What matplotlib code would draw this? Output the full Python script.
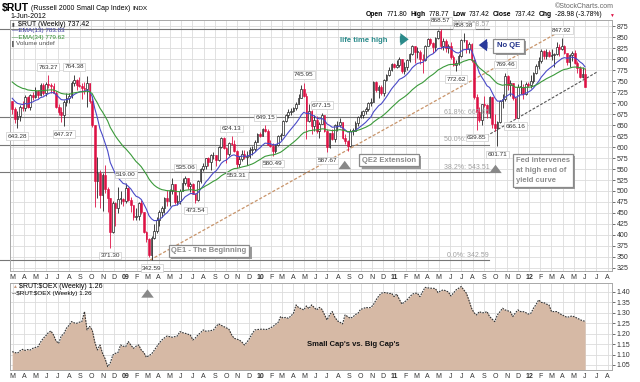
import numpy as np
import pandas as pd
import matplotlib
matplotlib.use('Agg')
import matplotlib.pyplot as plt
import matplotlib.patheffects as pe

plt.rcParams['font.family'] = ['Liberation Sans', 'DejaVu Sans']

# weekly bars, $RUT
weeks = pd.date_range('2008-02-29', '2012-06-01', freq='W-FRI')
first_open = 705

closes = [
    686, 663, 671, 690, 688, 714, 690, 718, 714, 728,
    718, 741, 722, 744, 740, 738, 724, 691, 680, 674,
    703, 712, 716, 745, 752, 742, 739, 734, 731, 745,
    705, 650, 522, 541, 490, 537, 505, 483, 406, 473,
    461, 482, 482, 478, 507, 480, 468, 441, 443, 472,
    452, 406, 390, 355, 393, 408, 435, 452, 462, 485,
    478, 500, 515, 474, 478, 501, 518, 530, 512, 517,
    494, 480, 522, 549, 557, 574, 565, 581, 583, 571,
    600, 620, 598, 585, 610, 608, 592, 562, 572, 585,
    578, 580, 594, 596, 612, 630, 625, 641, 637, 605,
    603, 592, 604, 624, 628, 660, 672, 680, 683, 688,
    699, 712, 732, 717, 660, 681, 647, 661, 636, 652,
    672, 637, 600, 631, 619, 649, 650, 656, 620, 613,
    603, 637, 637, 655, 669, 672, 681, 686, 701, 703,
    748, 729, 737, 722, 752, 763, 776, 788, 783, 786,
    801, 773, 782, 797, 812, 829, 817, 817, 801, 798,
    830, 846, 836, 828, 848, 865, 829, 841, 826, 830,
    805, 787, 792, 807, 843, 843, 823, 835, 797, 714,
    679, 662, 697, 695, 677, 713, 652, 644, 658, 705,
    710, 762, 740, 745, 711, 667, 737, 737, 720, 743,
    741, 750, 768, 785, 795, 818, 806, 816, 808, 810,
    812, 827, 822, 830, 815, 794, 809, 815, 791, 779,
    760, 766, 737.42,
]

highs = [
    705, 690, 682, 695, 705, 718, 716, 721, 726, 736,
    730, 745, 745, 748, 763.27, 746, 745, 727, 699, 690,
    707, 722, 722, 750, 764.38, 754, 760, 745, 748, 762,
    744, 712, 650, 578, 548, 541, 560, 510, 482, 478,
    476, 510, 500, 483, 519.00, 509, 487, 468, 461, 475,
    480, 453, 410, 392, 398, 425, 441, 457, 465, 487,
    503, 505, 530, 516, 490, 504, 529, 535.06, 530, 521,
    518, 495, 525, 552, 564, 576, 578, 584, 588, 582,
    603, 623, 622, 599, 612, 624.13, 617, 594, 580, 593,
    594, 590, 600, 602, 616, 632, 635, 644, 649.15, 640,
    615, 610, 606, 628, 633, 662, 675, 686, 688, 692,
    702, 720, 741, 745.95, 724, 699, 685, 672, 670, 657,
    677.15, 670, 642, 632, 641, 652, 659, 667, 655, 630,
    615, 640, 644, 660, 671, 683, 684, 692, 703, 712,
    750, 750, 740, 741, 755, 767, 782, 791, 792, 798,
    804, 800, 794, 800, 815, 832, 829, 827, 820, 812,
    831, 848, 849, 840, 850, 867, 868.57, 848, 845, 834,
    838, 810, 797, 812, 845, 858.38, 843, 840, 836, 800,
    721, 690, 699, 716, 698, 717, 712, 676, 660, 708,
    720, 769.46, 765, 752, 746, 710, 744, 753, 743, 747,
    749, 765, 771, 789, 804, 822, 820, 823, 820, 824,
    815, 839, 835, 847.92, 832, 815, 811, 818, 820, 795,
    785, 781, 778.77,
]

lows = [
    675, 655, 643.28, 660, 683, 682, 688, 685, 707, 712,
    712, 716, 719, 717, 735, 722, 722, 688, 674, 658,
    647.37, 693, 701, 712, 738, 730, 736, 710, 720, 690,
    700, 645, 464, 483, 461, 455, 495, 453, 371.30, 405,
    420, 450, 470, 465, 473, 477, 452, 434, 434, 435,
    447, 404, 383, 350, 342.59, 390, 405, 421, 440, 450,
    466, 467, 493, 470, 468, 470, 500, 513, 505, 498,
    493, 473.54, 478, 519, 545, 550, 557, 547, 572, 557,
    568, 598, 596, 563, 580, 604, 588, 553.31, 555, 568,
    573, 560, 576, 583, 590, 612, 622, 624, 634, 604,
    599, 580.49, 586, 602, 617, 627, 657, 665, 672, 679,
    685, 697, 711, 714, 618, 658, 629, 636, 631, 620,
    652, 634, 587.67, 598, 616, 612, 637, 646, 618, 607,
    590, 600, 628, 636, 648, 666, 665, 675, 681, 693,
    702, 725, 712, 718, 717, 750, 761, 774, 780, 779,
    781, 768, 766, 776, 793, 810, 792, 802, 790, 769,
    796, 830, 833, 815, 818, 846, 824, 820, 817, 815,
    800, 785, 772.62, 787, 805, 838, 814, 815, 793, 709,
    639.85, 658, 650, 690, 665, 666, 643, 636, 601.71, 655,
    688, 705, 730, 715, 706, 666.16, 670, 720, 710, 718,
    737, 735, 745, 767, 778, 791, 800, 801, 804, 797,
    783, 810, 806, 820, 811, 787, 782, 795, 788, 768,
    758, 758, 737.42,
]

# $RUT:$OEX weekly
ratio = [
    1.114, 1.110, 1.106, 1.118, 1.125, 1.120, 1.124, 1.122, 1.130, 1.134,
    1.138, 1.160, 1.178, 1.190, 1.205, 1.213, 1.194, 1.165, 1.154, 1.189,
    1.200, 1.226, 1.240, 1.258, 1.252, 1.250, 1.255, 1.258, 1.306, 1.218,
    1.235, 1.218, 1.160, 1.122, 1.146, 1.106, 1.080, 1.042, 1.060, 1.098,
    1.106, 1.110, 1.146, 1.140, 1.138, 1.162, 1.145, 1.130, 1.140, 1.146,
    1.122, 1.110, 1.087, 1.095, 1.103, 1.120, 1.138, 1.155, 1.170, 1.180,
    1.189, 1.186, 1.183, 1.186, 1.189, 1.210, 1.205, 1.202, 1.198, 1.194,
    1.170, 1.180, 1.194, 1.205, 1.218, 1.212, 1.213, 1.215, 1.218, 1.235,
    1.247, 1.240, 1.234, 1.228, 1.221, 1.195, 1.178, 1.174, 1.170, 1.160,
    1.146, 1.160, 1.178, 1.200, 1.218, 1.220, 1.221, 1.222, 1.220, 1.221,
    1.228, 1.234, 1.245, 1.253, 1.282, 1.275, 1.278, 1.274, 1.285, 1.298,
    1.338, 1.325, 1.320, 1.314, 1.333, 1.320, 1.338, 1.326, 1.314, 1.326,
    1.317, 1.292, 1.266, 1.290, 1.306, 1.280, 1.262, 1.255, 1.247, 1.290,
    1.282, 1.274, 1.280, 1.292, 1.298, 1.317, 1.320, 1.326, 1.324, 1.326,
    1.340, 1.362, 1.380, 1.394, 1.397, 1.397, 1.392, 1.394, 1.378, 1.390,
    1.365, 1.342, 1.352, 1.362, 1.376, 1.389, 1.394, 1.394, 1.378, 1.400,
    1.422, 1.420, 1.418, 1.418, 1.416, 1.397, 1.405, 1.410, 1.406, 1.400,
    1.381, 1.395, 1.410, 1.418, 1.426, 1.410, 1.394, 1.360, 1.322, 1.300,
    1.290, 1.306, 1.300, 1.301, 1.306, 1.282, 1.270, 1.258, 1.290, 1.305,
    1.322, 1.314, 1.310, 1.306, 1.282, 1.300, 1.314, 1.306, 1.306, 1.301,
    1.294, 1.298, 1.322, 1.340, 1.362, 1.350, 1.349, 1.342, 1.338, 1.306,
    1.306, 1.306, 1.298, 1.290, 1.285, 1.278, 1.282, 1.285, 1.280, 1.274,
    1.268, 1.262, 1.260,
]

ema13_seed = 711
ema34_seed = 748

# labelled highs / lows (week index, side)
peak_labels = [(2, 'low'), (14, 'high'), (24, 'high'), (20, 'low'), (38, 'low'),
               (44, 'high'), (54, 'low'), (67, 'high'), (71, 'low'), (85, 'high'),
               (87, 'low'), (98, 'high'), (101, 'low'), (113, 'high'), (120, 'high'),
               (122, 'low'), (166, 'high'), (175, 'high'), (172, 'low'), (180, 'low'),
               (188, 'low'), (191, 'high'), (195, 'low'), (213, 'high')]

fib_pct = ['0.0%', '38.2%', '50.0%', '61.8%', '100.0%']
fib_vals = [342.59, 543.51, 605.58, 667.65, 868.57]

trend1_dates = pd.to_datetime(['2009-03-09', '2012-03-12'])
trend1_vals = [343, 857]
trend2_dates = pd.to_datetime(['2011-08-28', '2012-07-02'])
trend2_vals = [620, 770]

RED = '#dd1144'
DARK = '#222222'
NOTE_GRAY = '#8c8c8c'


def ema(vals, n, seed):
    k = 2.0 / (n + 1)
    out = [seed]
    for v in vals[1:]:
        out.append(out[-1] + k * (v - out[-1]))
    return np.array(out)


def ftext(x, y, s, **kw):
    # figure text at pixel position
    return fig.text(x / 640, 1 - y / 382, s, parse_math=False, **kw)


def seq_text(x, y, parts, gap=2.5, **kw):
    # lay out text pieces left to right, measuring each one
    r = fig.canvas.get_renderer()
    for s, extra in parts:
        t = ftext(x, y, s, **kw, **extra)
        x += t.get_window_extent(r).width + gap


def note(a, x, y, s, color, pad=0.35, **kw):
    # stockcharts style annotation box with a drop shadow
    t = a.text(x, y, s, color=color, zorder=9,
               bbox=dict(boxstyle=f'square,pad={pad}', fc='white', ec='#8a8a8a', lw=0.9), **kw)
    t.get_bbox_patch().set_path_effects([
        pe.SimplePatchShadow(offset=(1.6, -1.6), shadow_rgbFace='#9a9a9a', alpha=1.0),
        pe.Normal()])


fig = plt.figure(figsize=(6.4, 3.82), dpi=100)
ax = fig.add_axes([10 / 640, 1 - 271 / 382, 602 / 640, 251 / 382])
ax2 = fig.add_axes([10 / 640, 1 - 370 / 382, 602 / 640, 87 / 382])

c = np.array(closes, dtype=float)
o = np.array([first_open] + closes[:-1], dtype=float)
h = np.maximum(np.array(highs, dtype=float), np.maximum(o, c))
l = np.minimum(np.array(lows, dtype=float), np.minimum(o, c))
up = c >= o

ax.vlines(weeks, l, h, colors=np.where(up, DARK, RED), lw=0.6, zorder=3)
body_lo = np.minimum(o, c)
body_h = np.maximum(np.abs(c - o), 1.5)
ax.bar(weeks[up], body_h[up], bottom=body_lo[up], width=4.6,
       facecolor='white', edgecolor=DARK, lw=0.5, zorder=4)
ax.bar(weeks[~up], body_h[~up], bottom=body_lo[~up], width=4.6,
       facecolor=RED, edgecolor=RED, lw=0.4, zorder=4)

ax.plot(weeks, ema(closes, 13, ema13_seed), color='#4a4ac8', lw=0.8, zorder=5)
ax.plot(weeks, ema(closes, 34, ema34_seed), color='#3a9a3a', lw=0.8, zorder=5)

# fibonacci retracement lines
fib_end = pd.Timestamp('2011-09-15')
for p, v in zip(fib_pct, fib_vals):
    ax.plot([pd.Timestamp('2008-01-28'), fib_end], [v, v], color='#777777',
            lw=0.8, zorder=2, clip_on=False)
    ax.text(fib_end, v + 3, f'{p}: {v:.2f}', fontsize=5, color='#a0a0a0',
            ha='right', va='bottom', zorder=6)

ax.plot(trend1_dates, trend1_vals, color='#c8946a', lw=0.9, ls=(0, (2.5, 1.5)), zorder=2)
ax.plot(trend2_dates, trend2_vals, color='#555555', lw=0.8, ls=(0, (2.5, 1.5)), zorder=2)

for i, side in peak_labels:
    if side == 'high':
        val, dy, va = h[i], 4, 'bottom'
    else:
        val, dy, va = l[i], -4, 'top'
    ax.annotate(f'{val:.2f}', (weeks[i], val), xytext=(0, dy), textcoords='offset points',
                fontsize=4.6, ha='center', va=va, color='#333333', zorder=8,
                bbox=dict(boxstyle='square,pad=0.2', fc='white', ec='#cccccc', lw=0.5))

note(ax, pd.Timestamp('2009-05-06'), 364, 'QE1 - The Beginning', NOTE_GRAY,
     fontsize=5.5, fontweight='bold', va='center')
note(ax, pd.Timestamp('2010-10-05'), 570, 'QE2 Extension', NOTE_GRAY,
     fontsize=5.5, fontweight='bold', va='center')
note(ax, pd.Timestamp('2011-11-26'), 577, 'Fed intervenes\nat high end of\nyield curve', NOTE_GRAY,
     pad=0.4, fontsize=5.5, fontweight='bold', va='top', linespacing=1.6)
note(ax, pd.Timestamp('2011-11-07'), 830, 'No QE', '#23338a', pad=0.5,
     fontsize=5.5, fontweight='bold', ha='center', va='center')
ax.text(pd.Timestamp('2010-08-06'), 843, 'life time high', fontsize=5.5,
        fontweight='bold', color='#2a8a8a', va='center', zorder=9)

arrow = 'simple,head_width=0.9,head_length=0.6,tail_width=0.45'
ax.annotate('', xy=(pd.Timestamp('2011-02-16'), 845), xytext=(pd.Timestamp('2011-01-08'), 845),
            arrowprops=dict(arrowstyle=arrow, color='#2a8a8a', lw=0), zorder=9)
ax.annotate('', xy=(pd.Timestamp('2011-08-10'), 832), xytext=(pd.Timestamp('2011-09-18'), 832),
            arrowprops=dict(arrowstyle=arrow, color='#2a3a9a', lw=0), zorder=9)
for d, tip, tail in [('2010-08-19', 575, 549), ('2011-10-02', 566, 541)]:
    ax.annotate('', xy=(pd.Timestamp(d), tip), xytext=(pd.Timestamp(d), tail),
                arrowprops=dict(arrowstyle=arrow, color='#888888', lw=0), zorder=9)

# lower panel: small vs big caps
ax2.fill_between(weeks, ratio, 1.0, color='#d6b9a5', lw=0, zorder=2)
ax2.plot(weeks, ratio, color='#333333', lw=0.8, ls=(0, (1.5, 1)), zorder=3)
ax2.text(pd.Timestamp('2010-05-09'), 1.146, "Small Cap's vs. Big Cap's", fontsize=5.5,
         fontweight='bold', color='#111111', va='center', zorder=5)
ax2.annotate('', xy=(pd.Timestamp('2009-03-02'), 1.426), xytext=(pd.Timestamp('2009-03-02'), 1.374),
             arrowprops=dict(arrowstyle=arrow, color='#888888', lw=0), zorder=9)

# axes styling
months = pd.date_range('2008-03-01', '2012-08-01', freq='MS')
mlabels = [m.strftime('%y') if m.month == 1 else m.strftime('%b')[0] for m in months]
for a in (ax, ax2):
    a.set_xlim(pd.Timestamp('2008-02-23'), pd.Timestamp('2012-08-13'))
    a.set_xticks(months)
    a.set_xticklabels(mlabels)
    for t, m in zip(a.get_xticklabels(), months):
        if m.month == 1:
            t.set_fontweight('bold')
            t.set_fontsize(6)
    a.yaxis.tick_right()
    a.tick_params(axis='x', labelsize=5, length=0, pad=2, colors='#333333')
    a.tick_params(axis='y', labelsize=5, length=2, pad=1.5, colors='#333333', width=0.5)
    a.grid(True, color='#dcdcdc', lw=0.6)
    a.set_axisbelow(True)
    for s in a.spines.values():
        s.set_color('#a8a8a8')
        s.set_linewidth(0.7)

ax.set_ylim(318, 889)
ax.set_yticks(np.arange(325, 876, 25))
ax2.set_ylim(1.026, 1.443)
ax2.set_yticks(np.arange(1.05, 1.401, 0.05))
ax2.set_yticklabels([f'{v:.2f}' for v in np.arange(1.05, 1.401, 0.05)])

# header
seq_text(2, 8, [('$RUT', dict(fontsize=7.5, fontweight='bold')),
                ('(Russell 2000 Small Cap Index)', dict(fontsize=5)),
                ('INDX', dict(fontsize=4.6))], gap=2, va='center')
ftext(10, 16, '1-Jun-2012', fontsize=5, va='center')
ftext(614, 6, '\u00a9StockCharts.com', fontsize=5, color='#666666', ha='right', va='center')
B, N = dict(fontweight='bold'), dict()
seq_text(366, 15, [('Open', B), ('771.80', N), ('High', B), ('778.77', N), ('Low', B),
                   ('737.42', N), ('Close', B), ('737.42', N), ('Chg', B),
                   ('-28.98 (-3.78%)', N)], gap=3.2, fontsize=4.9, va='center')
ftext(609, 15, '\u25bc', fontsize=3.5, color=RED, va='center')

# legends
ftext(12, 24, '\u25ae', fontsize=3.5, color='#444444', va='center')
ftext(18, 24, '$RUT (Weekly) 737.42', fontsize=5, va='center')
ftext(12, 30.5, '\u2014EMA(13) 783.83', fontsize=4.6, color='#3a3aa0', va='center')
ftext(12, 37, '\u2014EMA(34) 779.62', fontsize=4.6, color='#2e8b2e', va='center')
ftext(12, 43.5, '\u258c', fontsize=3.5, color='#666666', va='center')
ftext(16, 43.5, 'Volume undef', fontsize=4.6, color='#555555', va='center')

ftext(12, 287, '\u25b2', fontsize=3.5, color='#c49a80', va='center')
ftext(19, 287, '$RUT:$OEX (Weekly) 1.26', fontsize=5, va='center')
ftext(12, 293.5, '--$RUT:$OEX (Weekly) 1.26', fontsize=4.6, va='center')

fig.savefig('out.png', dpi=100)
